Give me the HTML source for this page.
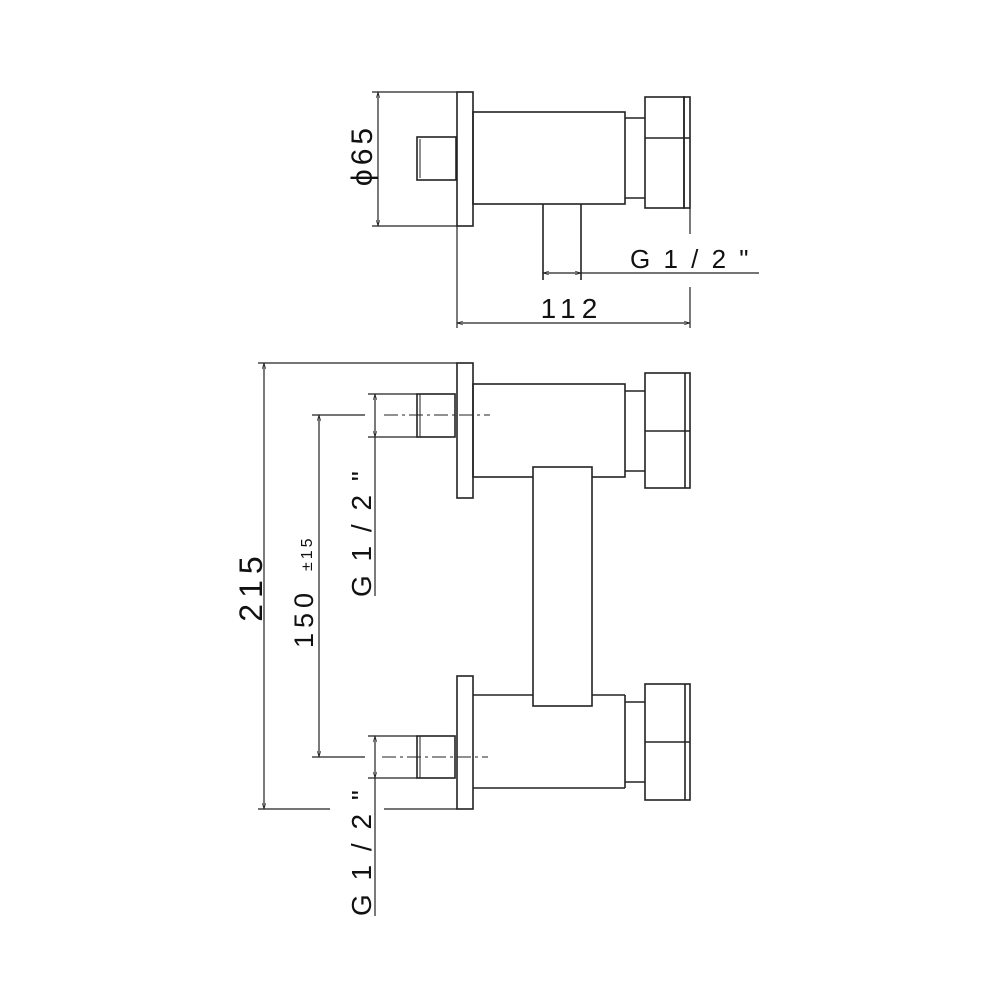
<!DOCTYPE html>
<html><head><meta charset="utf-8"><style>
html,body{margin:0;padding:0;background:#fff;}
svg{display:block;}
text{font-family:"Liberation Sans",sans-serif;fill:#111;}
</style></head><body>
<svg width="1000" height="1000" viewBox="0 0 1000 1000" xmlns="http://www.w3.org/2000/svg">
<defs>
<marker id="a" viewBox="0 0 10 10" refX="10" refY="5" markerWidth="8" markerHeight="6" orient="auto-start-reverse" markerUnits="userSpaceOnUse"><path d="M0,2 L10,5 L0,8" fill="none" stroke="#222" stroke-width="1"/></marker>
</defs>
<g fill="none" stroke="#222" stroke-width="1.6">
<rect x="457" y="92" width="16" height="134"/>
<rect x="417" y="137" width="39" height="43"/>
<line x1="420" y1="139" x2="420" y2="178" stroke-width="1"/>
<rect x="473" y="112" width="152" height="92"/>
<line x1="625" y1="118" x2="645" y2="118"/>
<line x1="625" y1="198" x2="645" y2="198"/>
<rect x="645" y="97" width="39" height="111"/>
<rect x="684" y="97" width="6" height="111"/>
<line x1="645" y1="138" x2="690" y2="138"/>
<line x1="543" y1="204" x2="543" y2="280"/>
<line x1="581" y1="204" x2="581" y2="280"/>
<line x1="543" y1="273" x2="581" y2="273" stroke-width="1.2" marker-start="url(#a)" marker-end="url(#a)"/>
<line x1="581" y1="273" x2="759" y2="273" stroke-width="1.2"/>
<line x1="372" y1="92" x2="457" y2="92" stroke-width="1.2"/>
<line x1="372" y1="226" x2="457" y2="226" stroke-width="1.2"/>
<line x1="378" y1="92" x2="378" y2="226" stroke-width="1.2" marker-start="url(#a)" marker-end="url(#a)"/>
<line x1="457" y1="226" x2="457" y2="328" stroke-width="1.2"/>
<line x1="690" y1="208" x2="690" y2="234" stroke-width="1.2"/>
<line x1="690" y1="287" x2="690" y2="328" stroke-width="1.2"/>
<line x1="457" y1="323" x2="690" y2="323" stroke-width="1.2" marker-start="url(#a)" marker-end="url(#a)"/>

<rect x="457" y="363" width="16" height="135"/>
<rect x="473" y="384" width="152" height="93"/>
<line x1="625" y1="391" x2="645" y2="391"/>
<line x1="625" y1="471" x2="645" y2="471"/>
<rect x="645" y="373" width="45" height="115"/>
<line x1="685" y1="373" x2="685" y2="488"/>
<line x1="645" y1="431" x2="690" y2="431"/>
<rect x="533" y="467" width="59" height="239" fill="#fff"/>
<rect x="457" y="676" width="16" height="133"/>
<line x1="473" y1="695" x2="533" y2="695"/>
<line x1="592" y1="695" x2="625" y2="695"/>
<line x1="473" y1="788" x2="625" y2="788"/>
<line x1="625" y1="695" x2="625" y2="788"/>
<line x1="625" y1="702" x2="645" y2="702"/>
<line x1="625" y1="782" x2="645" y2="782"/>
<rect x="645" y="684" width="45" height="116"/>
<line x1="685" y1="684" x2="685" y2="800"/>
<line x1="645" y1="742" x2="690" y2="742"/>
<rect x="417" y="394" width="38" height="43"/>
<line x1="420" y1="394" x2="420" y2="437" stroke-width="1"/>
<rect x="417" y="736" width="38" height="42"/>
<line x1="420" y1="736" x2="420" y2="778" stroke-width="1"/>
<line x1="384" y1="415" x2="490" y2="415" stroke-width="1" stroke-dasharray="14,4,3,4"/>
<line x1="382" y1="757" x2="488" y2="757" stroke-width="1" stroke-dasharray="14,4,3,4"/>
<line x1="312" y1="415" x2="365" y2="415" stroke-width="1.2"/>
<line x1="312" y1="757" x2="365" y2="757" stroke-width="1.2"/>
<line x1="368" y1="394" x2="417" y2="394" stroke-width="1.2"/>
<line x1="368" y1="437" x2="417" y2="437" stroke-width="1.2"/>
<line x1="375" y1="394" x2="375" y2="437" stroke-width="1.2" marker-start="url(#a)" marker-end="url(#a)"/>
<line x1="375" y1="437" x2="375" y2="596" stroke-width="1.2"/>
<line x1="368" y1="736" x2="417" y2="736" stroke-width="1.2"/>
<line x1="368" y1="778" x2="417" y2="778" stroke-width="1.2"/>
<line x1="375" y1="736" x2="375" y2="778" stroke-width="1.2" marker-start="url(#a)" marker-end="url(#a)"/>
<line x1="375" y1="778" x2="375" y2="916" stroke-width="1.2"/>
<line x1="319" y1="415" x2="319" y2="757" stroke-width="1.2" marker-start="url(#a)" marker-end="url(#a)"/>
<line x1="258" y1="363" x2="457" y2="363" stroke-width="1.2"/>
<line x1="258" y1="809" x2="330" y2="809" stroke-width="1.2"/>
<line x1="384" y1="809" x2="457" y2="809" stroke-width="1.2"/>
<line x1="264" y1="363" x2="264" y2="809" stroke-width="1.2" marker-start="url(#a)" marker-end="url(#a)"/>
</g>
<text x="0" y="0" font-size="30" letter-spacing="4" text-anchor="middle" transform="translate(372,155) rotate(-90)">ϕ65</text>
<text x="630" y="268" font-size="26" letter-spacing="3">G  1 / 2 "</text>
<text x="572" y="318" font-size="28" letter-spacing="6" text-anchor="middle">112</text>
<text x="0" y="0" font-size="32" letter-spacing="6" text-anchor="middle" transform="translate(262,586) rotate(-90)">215</text>
<text x="0" y="0" font-size="27" letter-spacing="5" transform="translate(313,648) rotate(-90)">150</text>
<text x="0" y="0" font-size="16" letter-spacing="3" transform="translate(312,571) rotate(-90)">±15</text>
<text x="0" y="0" font-size="28" letter-spacing="3" transform="translate(371,597) rotate(-90)">G  1 / 2 "</text>
<text x="0" y="0" font-size="28" letter-spacing="3" transform="translate(371,916) rotate(-90)">G  1 / 2 "</text>
</svg>
</body></html>
